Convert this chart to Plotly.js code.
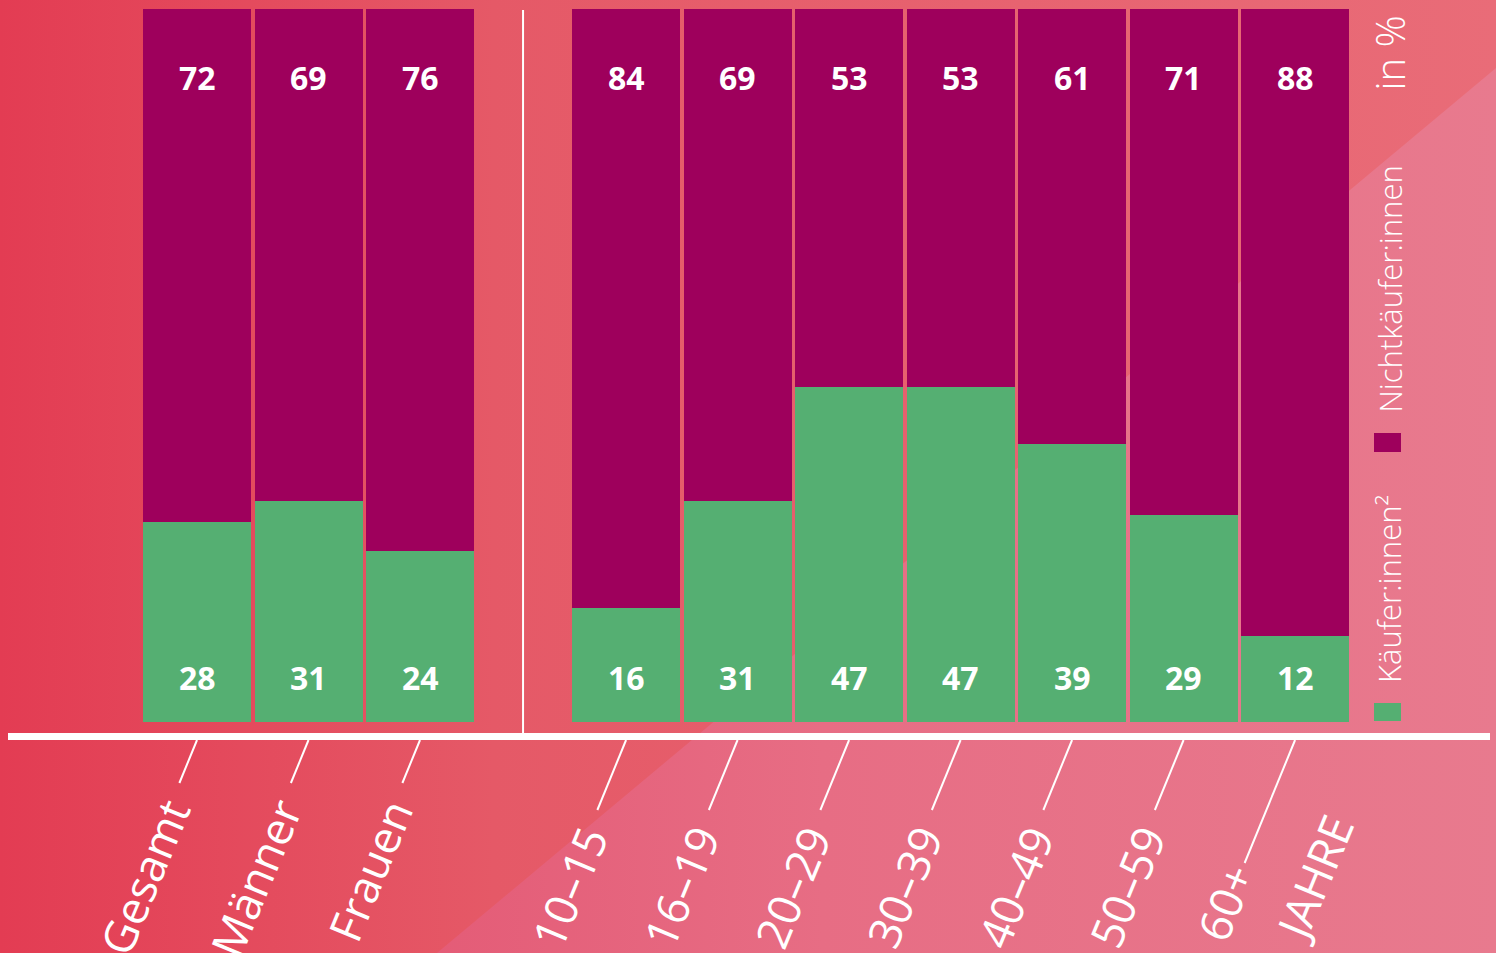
<!DOCTYPE html>
<html><head><meta charset="utf-8">
<script src="https://cdn.plot.ly/plotly-3.0.1.min.js"></script>
<style>
html,body{margin:0;padding:0;width:1496px;height:953px;overflow:hidden;}
#bg{position:absolute;left:0;top:0;width:1496px;height:953px;background:linear-gradient(to right,#e33c53 0%,#e55967 33%,#e96c78 100%);}
#bg2{position:absolute;left:0;top:0;width:1496px;height:953px;background:linear-gradient(to right,#e45c77 29%,#e76d84 55%,#e87a8e 100%);clip-path:polygon(437px 953px,1496px 68px,1496px 953px);}
#chart{position:absolute;left:0;top:0;width:1496px;height:953px;}
</style></head><body>
<div id="bg"></div><div id="bg2"></div><div id="chart"></div>
<script>
// ---- data ----
const categories = ["Gesamt","Männer","Frauen","10–15","16–19","20–29","30–39","40–49","50–59","60+"];
const groups = [0,0,0,1,1,1,1,1,1,1];
const kaeufer = [28,31,24,16,31,47,47,39,29,12];
const nichtkaeufer = [72,69,76,84,69,53,53,61,71,88];
const unitLabel = "JAHRE";
const seriesNames = ["Käufer:innen²","Nichtkäufer:innen"];
const unitText = "in %";

// ---- layout helpers ----
const W = 1496, H = 953;
const groupGap = 0.848;
const xpos = categories.map((c,i)=> i + groups[i]*groupGap);
const py = p => 1 - p/H;
const purple = "#9e005c", green = "#55af72";
const font = "Open Sans, Noto Sans, sans-serif";
const leaderLen = [43, 70];      // leader line length (px, vertical) per group
const lastLeader = 123;
const slope = 0.41;              // leader dx/dy

const traces = [
  {type:"bar", x:xpos, y:kaeufer, name:seriesNames[0], width:0.969,
   marker:{color:green}, hoverinfo:"skip"},
  {type:"bar", x:xpos, y:nichtkaeufer, name:seriesNames[1], width:0.969,
   marker:{color:purple}, hoverinfo:"skip"}
];

const annotations = [];
const shapes = [];
categories.forEach((c,i)=>{
  annotations.push({x:xpos[i], y:100, xref:"x", yref:"y", yshift:-69, text:String(nichtkaeufer[i]),
    showarrow:false, font:{family:font, size:32, color:"#fff", weight:700}, yanchor:"middle"});
  annotations.push({x:xpos[i], y:0, xref:"x", yref:"y", yshift:44, text:String(kaeufer[i]),
    showarrow:false, font:{family:font, size:32, color:"#fff", weight:700}, yanchor:"middle"});
  const last = i === categories.length-1;
  const dy = last ? lastLeader : leaderLen[groups[i]];
  const dx = dy * slope;
  shapes.push({type:"line", xref:"x", xsizemode:"pixel", xanchor:xpos[i], x0:0, x1:-dx,
    yref:"paper", ysizemode:"pixel", yanchor:py(740), y0:0, y1:-dy, line:{color:"#fff", width:2}});
  // label end placed just beyond the leader end
  annotations.push({x:xpos[i], y:py(740), xref:"x", yref:"paper", text:c, textangle:-67.5,
    xanchor:"right", yanchor:"top", xshift: 26 - dx, yshift: last ? -(dy - 10) : -(dy + 5),
    showarrow:false, font:{family:font, size:45, color:"#fff"}});
  if (last) {
    annotations.push({x:xpos[i], y:py(740), xref:"x", yref:"paper", text:unitLabel, textangle:-67.5,
      xanchor:"right", yanchor:"top", xshift:75, yshift:-63,
      showarrow:false, font:{family:font, size:45, color:"#fff"}});
  }
});

// separator between groups
const sepX = (xpos[2] + xpos[3]) / 2;
shapes.push({type:"line", xref:"x", x0:sepX, x1:sepX, yref:"paper", y0:py(733), y1:py(10),
  line:{color:"#fff", width:2}});
// baseline
shapes.push({type:"line", xref:"paper", x0:8/W, x1:1490/W, yref:"paper", y0:py(736.5), y1:py(736.5),
  line:{color:"#fff", width:7}});
// legend squares
shapes.push({type:"rect", xref:"paper", yref:"paper", x0:1374/W, x1:1401/W, y0:py(452), y1:py(433),
  fillcolor:purple, line:{width:0}});
shapes.push({type:"rect", xref:"paper", yref:"paper", x0:1374/W, x1:1401/W, y0:py(721), y1:py(703),
  fillcolor:green, line:{width:0}});
// legend texts
[[seriesNames[1],415,31],[seriesNames[0],685,31],[unitText,93,40]].forEach(([t,yb,fs])=>{
  annotations.push({x:1389/W, y:py(yb), xref:"paper", yref:"paper", text:t, textangle:-90,
    xanchor:"center", yanchor:"bottom", showarrow:false,
    font:{family:font, size:fs, color:"#fff", weight:300}});
});

const layout = {
  width:W, height:H, margin:{l:0,r:0,t:0,b:0},
  paper_bgcolor:"rgba(0,0,0,0)", plot_bgcolor:"rgba(0,0,0,0)",
  barmode:"stack", showlegend:false,
  xaxis:{range:[-1.767, 11.65], visible:false, fixedrange:true},
  yaxis:{range:[-32.40, 101.26], visible:false, fixedrange:true},
  shapes, annotations
};
Plotly.newPlot("chart", traces, layout, {displayModeBar:false, staticPlot:true});
</script>
</body></html>
